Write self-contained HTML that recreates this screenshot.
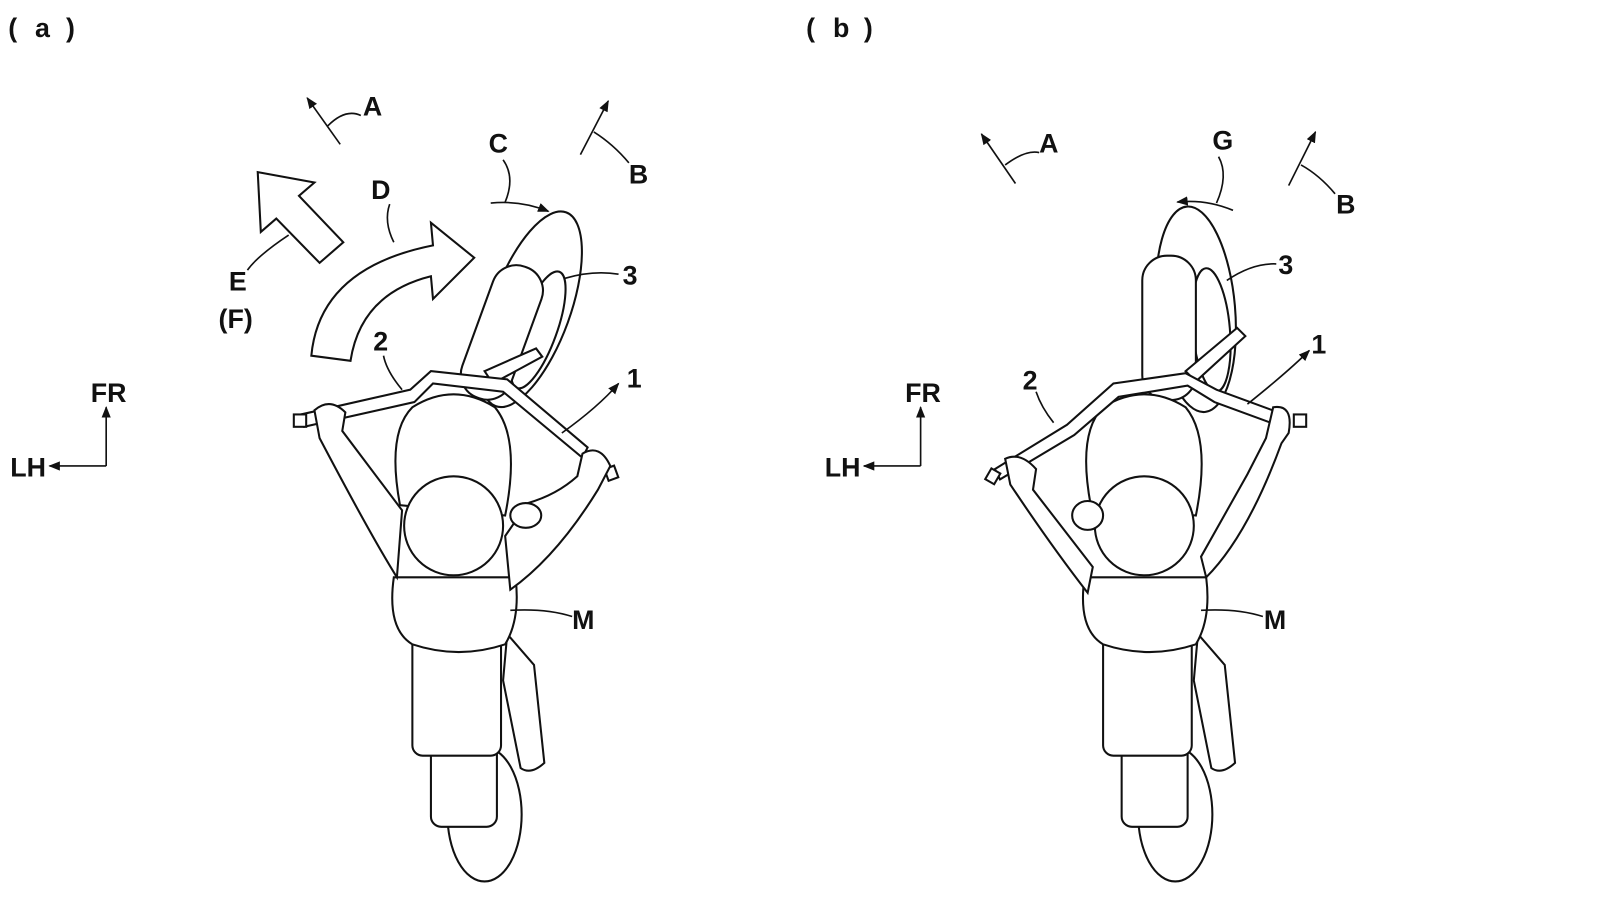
<!DOCTYPE html>
<html><head><meta charset="utf-8"><style>
html,body{margin:0;padding:0;background:#fff;width:1600px;height:900px;overflow:hidden}
svg{display:block}
text{font-family:"Liberation Sans",sans-serif;fill:#111;font-weight:bold}
</style></head><body>
<svg width="1600" height="900" viewBox="0 0 1552 873" xmlns="http://www.w3.org/2000/svg">
<defs>
<marker id="ah" viewBox="0 0 10 10" refX="9" refY="5" markerWidth="7" markerHeight="7" orient="auto"><path d="M0,1 L10,5 L0,9 z" fill="#111"/></marker>
<g id="body" fill="#fff" stroke="#111" stroke-width="2">
  <ellipse cx="470" cy="790" rx="36" ry="65"/>
  <path d="M492,615 L518,645 L528,740 Q515,752 505,745 L488,660 Z"/>
  <rect x="418" y="720" width="64" height="82" rx="10"/>
  <rect x="400" y="615" width="86" height="118" rx="10"/>
  <path d="M382,560 Q375,610 400,625 Q445,640 490,625 Q505,600 500,560 Z"/>
  <path d="M388,490 Q375,420 400,395 Q440,370 480,395 Q505,425 490,500 Z"/>
  <circle cx="440" cy="510" r="48"/>
</g>
</defs>

<text x="8" y="36" font-size="26" font-weight="normal">(</text>
<text x="34" y="36" font-size="26">a</text>
<text x="64" y="36" font-size="26" font-weight="normal">)</text>

<g fill="#fff" stroke="#111" stroke-width="2">
  <ellipse cx="515" cy="300" rx="38" ry="100" transform="rotate(20 515 300)"/>
  <ellipse cx="522" cy="320" rx="18" ry="60" transform="rotate(20 522 320)" />
  <rect x="462" y="255" width="50" height="135" rx="24" transform="rotate(20 487 322)"/>
  <path d="M470,360 L520,338 L526,346 L478,372 Z"/>
</g>
<use href="#body"/>
<g fill="#fff" stroke="#111" stroke-width="2">
  <path d="M292,402 L398,378 L418,360 L492,368 L570,434 L565,444 L488,380 L420,372 L402,390 L295,414 Z"/>
  <rect x="285" y="402" width="12" height="12"/>
  <rect x="588" y="453" width="10" height="12" transform="rotate(-20 593 459)"/>
  <path d="M305,398 Q320,385 335,400 L332,418 L390,495 L385,560 Q360,520 310,425 Z"/>
  <path d="M565,440 Q582,430 592,452 L580,475 Q540,540 495,572 L490,520 L512,488 Q540,480 560,462 Z"/>
  <ellipse cx="510" cy="500" rx="15" ry="12"/>
</g>
<path d="M250,167 L305,177 L290,190 L333,235 L310,255 L268,212 L253,225 Z" fill="#fff" stroke="#111" stroke-width="2"/>
<path d="M302,345 Q310,260 420,238 L418,216 L460,250 L420,290 L418,268 Q350,285 340,350 Z" fill="#fff" stroke="#111" stroke-width="2"/>

<g fill="none" stroke="#111" stroke-width="1.6">
  <line x1="330" y1="140" x2="298" y2="95" marker-end="url(#ah)"/>
  <path d="M318,122 Q335,105 350,112"/>
  <line x1="563" y1="150" x2="590" y2="98" marker-end="url(#ah)"/>
  <path d="M576,128 Q595,140 610,158"/>
  <path d="M476,197 Q505,194 532,205" marker-end="url(#ah)"/>
  <path d="M490,196 Q500,172 488,155"/>
  <path d="M382,235 Q372,215 378,198"/>
  <path d="M280,228 Q250,248 240,262"/>
  <path d="M548,270 Q575,262 600,266"/>
  <path d="M390,378 Q375,360 372,345"/>
  <path d="M545,420 Q580,395 600,372" marker-end="url(#ah)"/>
  <path d="M495,592 Q530,590 555,598"/>
  <line x1="103" y1="452" x2="103" y2="395" marker-end="url(#ah)"/>
  <line x1="103" y1="452" x2="48" y2="452" marker-end="url(#ah)"/>
</g>
<g font-size="26">
<text x="352" y="112">A</text>
<text x="474" y="148">C</text>
<text x="610" y="178">B</text>
<text x="360" y="193">D</text>
<text x="222" y="282">E</text>
<text x="212" y="318" font-weight="normal">(F)</text>
<text x="604" y="276">3</text>
<text x="362" y="340">2</text>
<text x="608" y="376">1</text>
<text x="555" y="610">M</text>
<text x="88" y="390">FR</text>
<text x="10" y="462">LH</text>
</g>

<text x="782" y="36" font-size="26" font-weight="normal">(</text>
<text x="808" y="36" font-size="26">b</text>
<text x="838" y="36" font-size="26" font-weight="normal">)</text>

<g fill="#fff" stroke="#111" stroke-width="2">
  <ellipse cx="1160" cy="300" rx="38" ry="100" transform="rotate(-5 1160 300)"/>
  <ellipse cx="1175" cy="320" rx="18" ry="60" transform="rotate(-5 1175 320)"/>
  <rect x="1108" y="248" width="52" height="140" rx="24"/>
  <path d="M1150,360 L1200,318 L1208,326 L1160,370 Z"/>
</g>
<use href="#body" transform="translate(670 0)"/>
<g fill="#fff" stroke="#111" stroke-width="2">
  <path d="M965,455 L1035,412 L1080,372 L1150,362 L1180,378 L1240,400 L1238,412 L1178,390 L1152,374 L1085,385 L1042,422 L970,465 Z"/>
  <rect x="958" y="456" width="10" height="12" transform="rotate(30 963 462)"/>
  <rect x="1255" y="402" width="12" height="12"/>
  <path d="M975,445 Q990,438 1005,455 L1002,475 L1060,550 L1055,575 Q1020,530 980,470 Z"/>
  <path d="M1235,395 Q1255,392 1250,420 L1243,430 Q1210,520 1170,560 L1165,540 L1210,460 L1228,425 Z"/>
  <ellipse cx="1055" cy="500" rx="15" ry="14"/>
</g>
<g fill="none" stroke="#111" stroke-width="1.6">
  <line x1="985" y1="178" x2="952" y2="130" marker-end="url(#ah)"/>
  <path d="M975,160 Q995,145 1008,148"/>
  <line x1="1250" y1="180" x2="1276" y2="128" marker-end="url(#ah)"/>
  <path d="M1262,160 Q1280,170 1295,188"/>
  <path d="M1196,204 Q1170,193 1142,196" marker-end="url(#ah)"/>
  <path d="M1180,197 Q1192,170 1182,152"/>
  <path d="M1190,272 Q1215,255 1238,256"/>
  <path d="M1022,410 Q1010,395 1005,380"/>
  <path d="M1210,392 Q1250,360 1270,340" marker-end="url(#ah)"/>
  <path d="M1165,592 Q1200,590 1225,598"/>
  <line x1="893" y1="452" x2="893" y2="395" marker-end="url(#ah)"/>
  <line x1="893" y1="452" x2="838" y2="452" marker-end="url(#ah)"/>
</g>
<g font-size="26">
<text x="1008" y="148">A</text>
<text x="1176" y="145">G</text>
<text x="1296" y="207">B</text>
<text x="1240" y="266">3</text>
<text x="992" y="378">2</text>
<text x="1272" y="343">1</text>
<text x="1226" y="610">M</text>
<text x="878" y="390">FR</text>
<text x="800" y="462">LH</text>
</g>
</svg>
</body></html>
